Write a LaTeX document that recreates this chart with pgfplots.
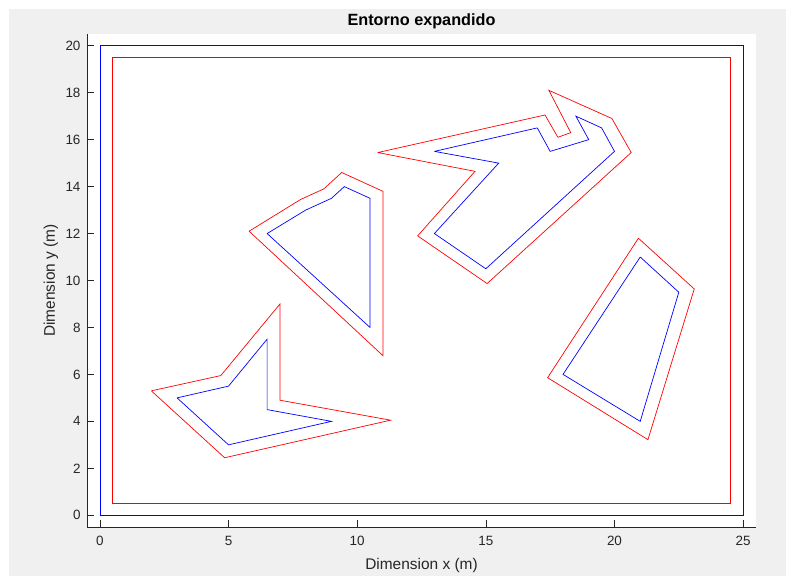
\documentclass[border=0pt]{standalone}
\usepackage{pgfplots}
\pgfplotsset{compat=1.18}
\usepackage{fontspec}
\setmainfont{Liberation Sans}
\definecolor{figbg}{RGB}{240,240,240}
\definecolor{axgray}{RGB}{38,38,38}
\begin{document}
\begin{tikzpicture}
\fill[white] (0bp,0bp) rectangle (786bp,576bp);
\fill[figbg] (9bp,0bp) rectangle (786bp,567bp);
\begin{axis}[
  at={(87bp,49bp)}, anchor=south west,
  scale only axis, width=669bp, height=493bp,
  xmin=-0.5, xmax=25.5, ymin=-0.5, ymax=20.5,
  axis background/.style={fill=white},
  axis lines*=left,
  axis line style={-, axgray, line width=0.6bp},
  tick style={axgray, line width=0.6bp},
  major tick length=6.7bp, tick align=inside,
  xtick={0,5,10,15,20,25}, ytick={0,2,4,6,8,10,12,14,16,18,20},
  /pgf/number format/assume math mode=true,
  ticklabel style={font=\fontsize{13.5}{15}\selectfont, text=axgray},
  xticklabel style={yshift=-6bp},
  yticklabel style={xshift=-3bp},
  title={Entorno expandido},
  title style={at={(axis description cs:0.5,1.005)}, anchor=base, inner sep=0pt, font=\fontsize{16.3}{18}\selectfont\bfseries, text=black},
  xlabel={Dimension x (m)},
  xlabel style={at={(axis description cs:0.5,-0.0852)}, anchor=base, inner sep=0pt, font=\fontsize{15.5}{17}\selectfont, text=axgray},
  ylabel={Dimension y (m)},
  ylabel style={at={(axis description cs:-0.048,0.5)}, anchor=base, inner sep=0pt, font=\fontsize{15.5}{17}\selectfont, text=axgray},
]
% outer boundary
\addplot[blue, line width=0.7bp] coordinates {(0,0) (25,0) (25,20) (0,20) (0,0)};
\addplot[red, line width=0.7bp] coordinates {(0.5,0.5) (24.5,0.5) (24.5,19.5) (0.5,19.5) (0.5,0.5)};
% obstacle 1
\addplot[blue, line width=0.7bp] coordinates {(3,5) (5,5.5) (6.5,7.5) (6.5,4.5) (9,4) (5,3) (3,5)};
\addplot[red, line width=0.7bp] coordinates {(2,5.3) (4.7,5.95) (7,9) (7,4.9) (11.3,4.05) (4.85,2.45) (2,5.3)};
% obstacle 2
\addplot[blue, line width=0.7bp] coordinates {(6.5,12) (8,13) (9,13.5) (9.5,14) (10.5,13.5) (10.5,8) (6.5,12)};
\addplot[red, line width=0.7bp] coordinates {(5.8,12.1) (7.8,13.45) (8.7,13.9) (9.4,14.6) (11,13.8) (11,6.8) (5.8,12.1)};
% obstacle 3
\addplot[blue, line width=0.7bp] coordinates {(13,15.5) (17,16.5) (17.5,15.5) (19,16) (18.5,17) (19.5,16.5) (20,15.5) (15,10.5) (13,12) (15.5,15) (13,15.5)};
\addplot[red, line width=0.7bp] coordinates {(10.8,15.45) (17.3,17.05) (17.8,16.1) (18.3,16.3) (17.45,18.1) (19.9,16.9) (20.65,15.45) (15.05,9.87) (12.35,11.9) (14.58,14.65) (10.8,15.45)};
% obstacle 4
\addplot[blue, line width=0.7bp] coordinates {(21,11) (22.5,9.5) (21,4) (18,6) (21,11)};
\addplot[red, line width=0.7bp] coordinates {(20.93,11.8) (23.1,9.64) (21.3,3.22) (17.4,5.86) (20.93,11.8)};
\end{axis}
\end{tikzpicture}
\end{document}
